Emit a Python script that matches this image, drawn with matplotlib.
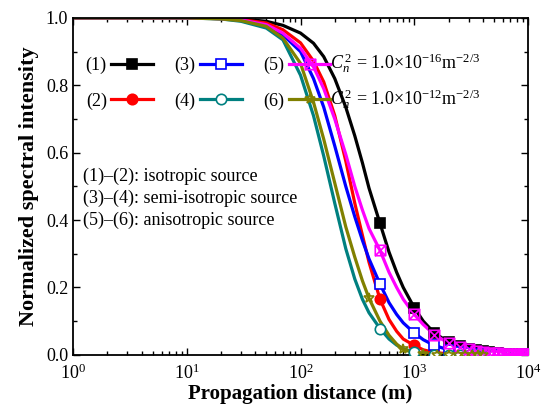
import numpy as np
import matplotlib
matplotlib.use("Agg")
import matplotlib.pyplot as plt
from matplotlib.path import Path
from matplotlib.ticker import MultipleLocator, LogLocator, NullFormatter

plt.rcParams['font.family'] = ['Liberation Serif', 'DejaVu Serif']
plt.rcParams['mathtext.fontset'] = 'custom'
plt.rcParams['mathtext.rm'] = 'Liberation Serif'
plt.rcParams['mathtext.it'] = 'Liberation Serif:italic'

# propagation distance grid (m) for the curves
dist = [1, 5, 10, 20, 30, 50, 70, 100, 130, 160, 200, 250, 300, 350, 400,
        500, 600, 700, 800, 1000, 1200, 1500, 2000, 2500, 3000, 4000,
        5000, 7000, 10000]

# normalized spectral intensity
s1 = [1.0, 1.0, 1.0, 0.999, 0.997, 0.99, 0.978, 0.955, 0.925, 0.885, 0.82,
      0.735, 0.65, 0.57, 0.495, 0.39, 0.305, 0.245, 0.20, 0.14, 0.10, 0.065,
      0.038, 0.025, 0.017, 0.01, 0.006, 0.003, 0.002]
s2 = [1.0, 1.0, 1.0, 0.998, 0.995, 0.985, 0.965, 0.926, 0.872, 0.81, 0.71,
      0.575, 0.45, 0.355, 0.275, 0.165, 0.105, 0.07, 0.047, 0.028, 0.015, 0.007,
      0.003, 0.001, 0.0, 0.0, 0.0, 0.0, 0.0]
s3 = [1.0, 1.0, 1.0, 0.998, 0.993, 0.978, 0.95, 0.90, 0.82, 0.735, 0.62,
      0.50, 0.41, 0.34, 0.285, 0.21, 0.155, 0.12, 0.095, 0.065, 0.045, 0.028,
      0.015, 0.009, 0.006, 0.003, 0.002, 0.001, 0.0005]
s4 = [1.0, 1.0, 1.0, 0.997, 0.99, 0.97, 0.935, 0.83, 0.71, 0.59, 0.45,
      0.315, 0.225, 0.165, 0.125, 0.078, 0.047, 0.029, 0.018, 0.008, 0.003,
      0.001, 0.0, 0.0, 0.0, 0.0, 0.0, 0.0, 0.0]
s5 = [1.0, 1.0, 1.0, 0.998, 0.994, 0.98, 0.955, 0.91, 0.855, 0.79, 0.70,
      0.595, 0.50, 0.43, 0.375, 0.31, 0.245, 0.20, 0.165, 0.12, 0.09, 0.06,
      0.035, 0.023, 0.016, 0.009, 0.006, 0.003, 0.0015]
s6 = [1.0, 1.0, 1.0, 0.997, 0.992, 0.975, 0.94, 0.865, 0.75, 0.64, 0.51,
      0.38, 0.29, 0.22, 0.168, 0.10, 0.058, 0.032, 0.016, 0.006, 0.003,
      0.001, 0.0, 0.0, 0.0, 0.0, 0.0, 0.0, 0.0]

# symbol positions (every 500 m; every 400 m for curve 6)
mark_x = [500, 1000, 1500, 2000, 2500, 3000, 3500, 4000, 4500, 5000,
          5500, 6000, 6500, 7000, 7500, 8000, 8500, 9000, 9500, 10000]
m1 = [0.39, 0.14, 0.065, 0.038, 0.025, 0.017, 0.013, 0.01, 0.008, 0.006,
      0.005, 0.004, 0.004, 0.003, 0.003, 0.003, 0.002, 0.002, 0.002, 0.002]
m2 = [0.165, 0.028, 0.007, 0.003, 0.001, 0, 0, 0, 0, 0,
      0, 0, 0, 0, 0, 0, 0, 0, 0, 0]
m3 = [0.21, 0.065, 0.028, 0.015, 0.009, 0.006, 0.004, 0.003, 0.002, 0.002,
      0.001, 0.001, 0.001, 0.001, 0.001, 0.001, 0.0, 0.0, 0.0, 0.0]
m4 = [0.078, 0.008, 0.001, 0, 0, 0, 0, 0, 0, 0,
      0, 0, 0, 0, 0, 0, 0, 0, 0, 0]
m5 = [0.31, 0.12, 0.06, 0.035, 0.023, 0.016, 0.012, 0.009, 0.007, 0.006,
      0.005, 0.004, 0.004, 0.003, 0.003, 0.002, 0.002, 0.002, 0.002, 0.0015]
mark_x6 = [400, 800, 1200, 1600, 2000, 2400, 2800, 3200, 3600, 4000]
m6 = [0.168, 0.016, 0.003, 0.001, 0, 0, 0, 0, 0, 0]

labels = ['(1)', '(2)', '(3)', '(4)', '(5)', '(6)']
colors = ['black', 'red', 'blue', '#008080', '#ff00ff', '#808000']

# square with a cross inside
box_x = Path([(-1, -1), (1, -1), (1, 1), (-1, 1), (-1, -1), (1, 1), (-1, 1), (1, -1)],
             [Path.MOVETO, Path.LINETO, Path.LINETO, Path.LINETO, Path.LINETO,
              Path.LINETO, Path.MOVETO, Path.LINETO])

fig = plt.figure(figsize=(5.41, 4.17), dpi=100)
ax = fig.add_axes([0.135, 0.149, 0.841, 0.808])

series = [(s1, mark_x, m1, 's', 'black'),
          (s2, mark_x, m2, 'o', 'red'),
          (s3, mark_x, m3, 's', 'white'),
          (s4, mark_x, m4, 'o', 'white'),
          (s5, mark_x, m5, box_x, 'none'),
          (s6, mark_x6, m6, '*', 'none')]

handles = []
for (ys, mx, my, mk, fc), col, lab in zip(series, colors, labels):
    ax.plot(dist, ys, color=col, lw=2.3, zorder=2)
    ax.plot(mx, my, ls='none', marker=mk, ms=7.5, mfc=fc, mec=col, mew=1.2, zorder=3)
    h, = ax.plot([], [], color=col, lw=2.3, marker=mk, ms=7.5, mfc=fc, mec=col,
                 mew=1.2, label=lab)
    handles.append(h)

ax.set_xscale('log')
ax.set_xlim(1, 1e4)
ax.set_ylim(0, 1.0)
ax.yaxis.set_major_locator(MultipleLocator(0.2))
ax.yaxis.set_minor_locator(MultipleLocator(0.1))
ax.yaxis.set_major_formatter(plt.FormatStrFormatter('%.1f'))
ax.xaxis.set_major_locator(LogLocator(base=10, numticks=10))
ax.xaxis.set_minor_locator(LogLocator(base=10, subs=np.arange(2, 10), numticks=10))
ax.xaxis.set_minor_formatter(NullFormatter())
ax.tick_params(which='both', direction='in', top=True, right=True, labelsize=13,
               width=1.0)
ax.tick_params(axis='x', which='major', pad=6)
ax.tick_params(which='major', length=5)
ax.tick_params(which='minor', length=3)
for sp in ax.spines.values():
    sp.set_linewidth(1.3)

ax.set_xlabel('Propagation distance (m)', fontsize=15, fontweight='bold', labelpad=1)
ax.set_ylabel('Normalized spectral intensity', fontsize=16, fontweight='bold', labelpad=5)

leg = ax.legend(handles=handles, ncol=3, loc='upper left', frameon=False,
                markerfirst=False, fontsize=13, bbox_to_anchor=(0.012, 0.905),
                borderaxespad=0, handlelength=2.3, handletextpad=0.25,
                columnspacing=1.2, labelspacing=1.0)

ax.text(0.565, 0.866, r'$C_n^{\,2}$ = 1.0×10$^{-16}$m$^{-2/3}$', transform=ax.transAxes,
        fontsize=13, va='center', ha='left')
ax.text(0.565, 0.760, r'$C_n^{\,2}$ = 1.0×10$^{-12}$m$^{-2/3}$', transform=ax.transAxes,
        fontsize=13, va='center', ha='left')

ax.text(0.022, 0.531, '(1)–(2): isotropic source', transform=ax.transAxes,
        fontsize=13, va='center')
ax.text(0.022, 0.466, '(3)–(4): semi-isotropic source', transform=ax.transAxes,
        fontsize=13, va='center')
ax.text(0.022, 0.398, '(5)–(6): anisotropic source', transform=ax.transAxes,
        fontsize=13, va='center')

fig.savefig('out.png', dpi=100)
